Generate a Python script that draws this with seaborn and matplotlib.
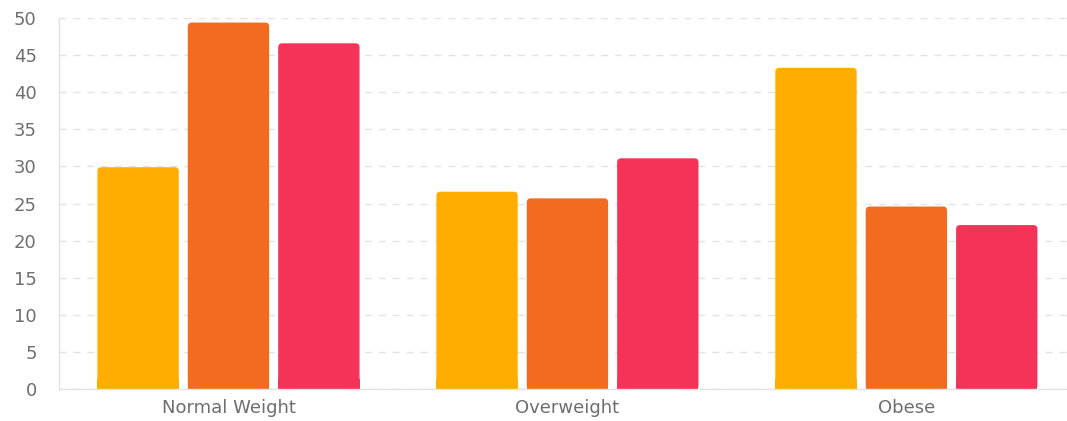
import pandas as pd
import numpy as np
import seaborn as sns
import matplotlib.pyplot as plt
from matplotlib.patches import FancyBboxPatch, Rectangle

categories = ["Normal Weight", "Overweight", "Obese"]
series_a = [29.9, 26.6, 43.3]
series_b = [49.4, 25.7, 24.6]
series_c = [46.6, 31.1, 22.1]
series_names = ["A", "B", "C"]
colors = ["#FFAE00", "#F26B21", "#F53257"]

rows = []
for name, vals in zip(series_names, [series_a, series_b, series_c]):
    for cat, v in zip(categories, vals):
        rows.append({"category": cat, "series": name, "value": v})
df = pd.DataFrame(rows)

sns.set_style("white")
plt.rcParams['font.family'] = ['DejaVu Sans']

fig = plt.figure(figsize=(10.67, 4.21), dpi=100)
# chart is a bit wider than the picture, right side is cut
ax = fig.add_axes([0.0553, 0.076, 0.953, 0.881])

sns.barplot(data=df, x="category", y="value", hue="series", order=categories,
            hue_order=series_names, palette=colors, width=0.8, gap=0.1,
            saturation=1, legend=False, ax=ax)

ax.set_ylim(0, 50)
ax.set_xlim(-0.5, 2.5)
ax.set_yticks(np.arange(0, 51, 5))
ax.set_xlabel("")
ax.set_ylabel("")

# rounded top corners
fig.canvas.draw()
px_x = ax.transData.transform((1, 0))[0] - ax.transData.transform((0, 0))[0]
px_y = ax.transData.transform((0, 1))[1] - ax.transData.transform((0, 0))[1]
r = 4 / px_x
aspect = px_x / px_y
for p in list(ax.patches):
    x, y = p.get_x(), p.get_y()
    w, h = p.get_width(), p.get_height()
    c = p.get_facecolor()
    p.remove()
    ax.add_patch(FancyBboxPatch((x, y), w, h,
                                boxstyle=f"round,pad=0,rounding_size={r}",
                                mutation_aspect=aspect, fc=c, ec="none", zorder=2))
    ax.add_patch(Rectangle((x, y), w, 10 / px_y, fc=c, ec="none", zorder=2))

ax.grid(axis="y", color="#e3e3e3", linestyle=(0, (5, 5)), linewidth=1)
ax.set_axisbelow(True)
for s in ["top", "right"]:
    ax.spines[s].set_visible(False)
for s in ["left", "bottom"]:
    ax.spines[s].set_color("#e3e3e3")
    ax.spines[s].set_linewidth(1)

ax.tick_params(axis="y", length=11, width=1, color="#e3e3e3", pad=5,
               labelsize=13, labelcolor="#6e6e6e")
ax.tick_params(axis="x", length=0, pad=7, labelsize=13, labelcolor="#6e6e6e")

fig.savefig("out.png", dpi=100)
